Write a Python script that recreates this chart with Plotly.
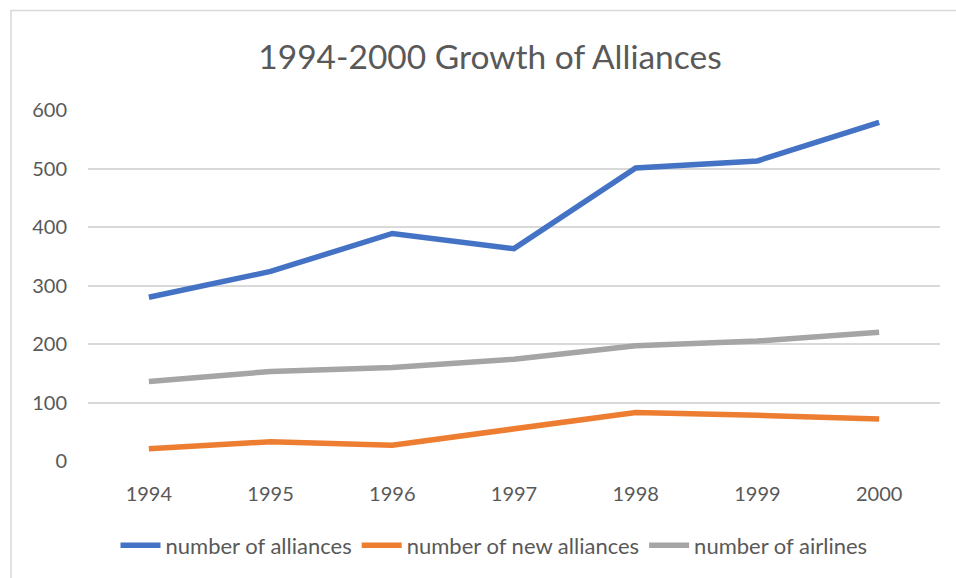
import plotly.graph_objects as go

# Yearly figures, 1994-2000
years = ["1994", "1995", "1996", "1997", "1998", "1999", "2000"]
alliances = [280, 324, 389, 363, 501, 513, 579]
new_alliances = [21, 33, 27, 54, 83, 78, 72]
airlines = [136, 153, 160, 174, 197, 205, 220]

series_names = ["number of alliances", "number of new alliances", "number of airlines"]
series_colors = ["#4472C4", "#ED7D31", "#A5A5A5"]
y_ticks = [0, 100, 200, 300, 400, 500, 600]

FONT = "Lato"
TEXT_GREY = "#595959"
GRID_GREY = "#D9D9D9"

W, H = 956, 578
L, R, T, B = 88, 16, 110, 115

fig = go.Figure()
for name, vals, color in zip(series_names, [alliances, new_alliances, airlines], series_colors):
    fig.add_trace(go.Scatter(
        x=years, y=vals, name=name, mode="lines",
        line=dict(color=color, width=5.5),
    ))

# outer chart frame
pw, ph = W - L - R, H - T - B
def px_x(p):
    return (p - L) / pw
def px_y(p):
    return (H - B - p) / ph

fig.add_shape(
    type="rect", xref="paper", yref="paper",
    x0=px_x(11), x1=px_x(W + 5), y0=px_y(10), y1=px_y(H + 5),
    line=dict(color=GRID_GREY, width=1.5), fillcolor="rgba(0,0,0,0)", layer="below",
)

fig.update_layout(
    width=W, height=H,
    margin=dict(l=L, r=R, t=T, b=B),
    paper_bgcolor="white", plot_bgcolor="white",
    font=dict(family=FONT, color=TEXT_GREY, size=20),
    title=dict(
        text="1994-2000 Growth of Alliances",
        x=px_x(490), xref="paper", xanchor="center",
        y=1 - 57 / H, yref="container", yanchor="middle",
        font=dict(family=FONT, size=33.5, color=TEXT_GREY),
    ),
    showlegend=True,
    legend=dict(
        orientation="h", x=px_x(494), xanchor="center",
        y=px_y(548), yanchor="middle",
        font=dict(family=FONT, size=22, color=TEXT_GREY),
        itemwidth=40, tracegroupgap=0,
    ),
    xaxis=dict(
        type="category", range=[-0.5, len(years) - 0.5],
        showgrid=False, showline=False, zeroline=False, ticks="",
        tickfont=dict(family=FONT, size=20, color=TEXT_GREY),
        ticklabelstandoff=19,
    ),
    yaxis=dict(
        range=[0, 600], tickvals=y_ticks, ticktext=[str(v) for v in y_ticks],
        showgrid=True, gridcolor=GRID_GREY, gridwidth=1.5,
        showline=False, zeroline=False, ticks="",
        tickfont=dict(family=FONT, size=20, color=TEXT_GREY),
        ticklabelstandoff=20,
    ),
)

fig.write_html("out.html")
